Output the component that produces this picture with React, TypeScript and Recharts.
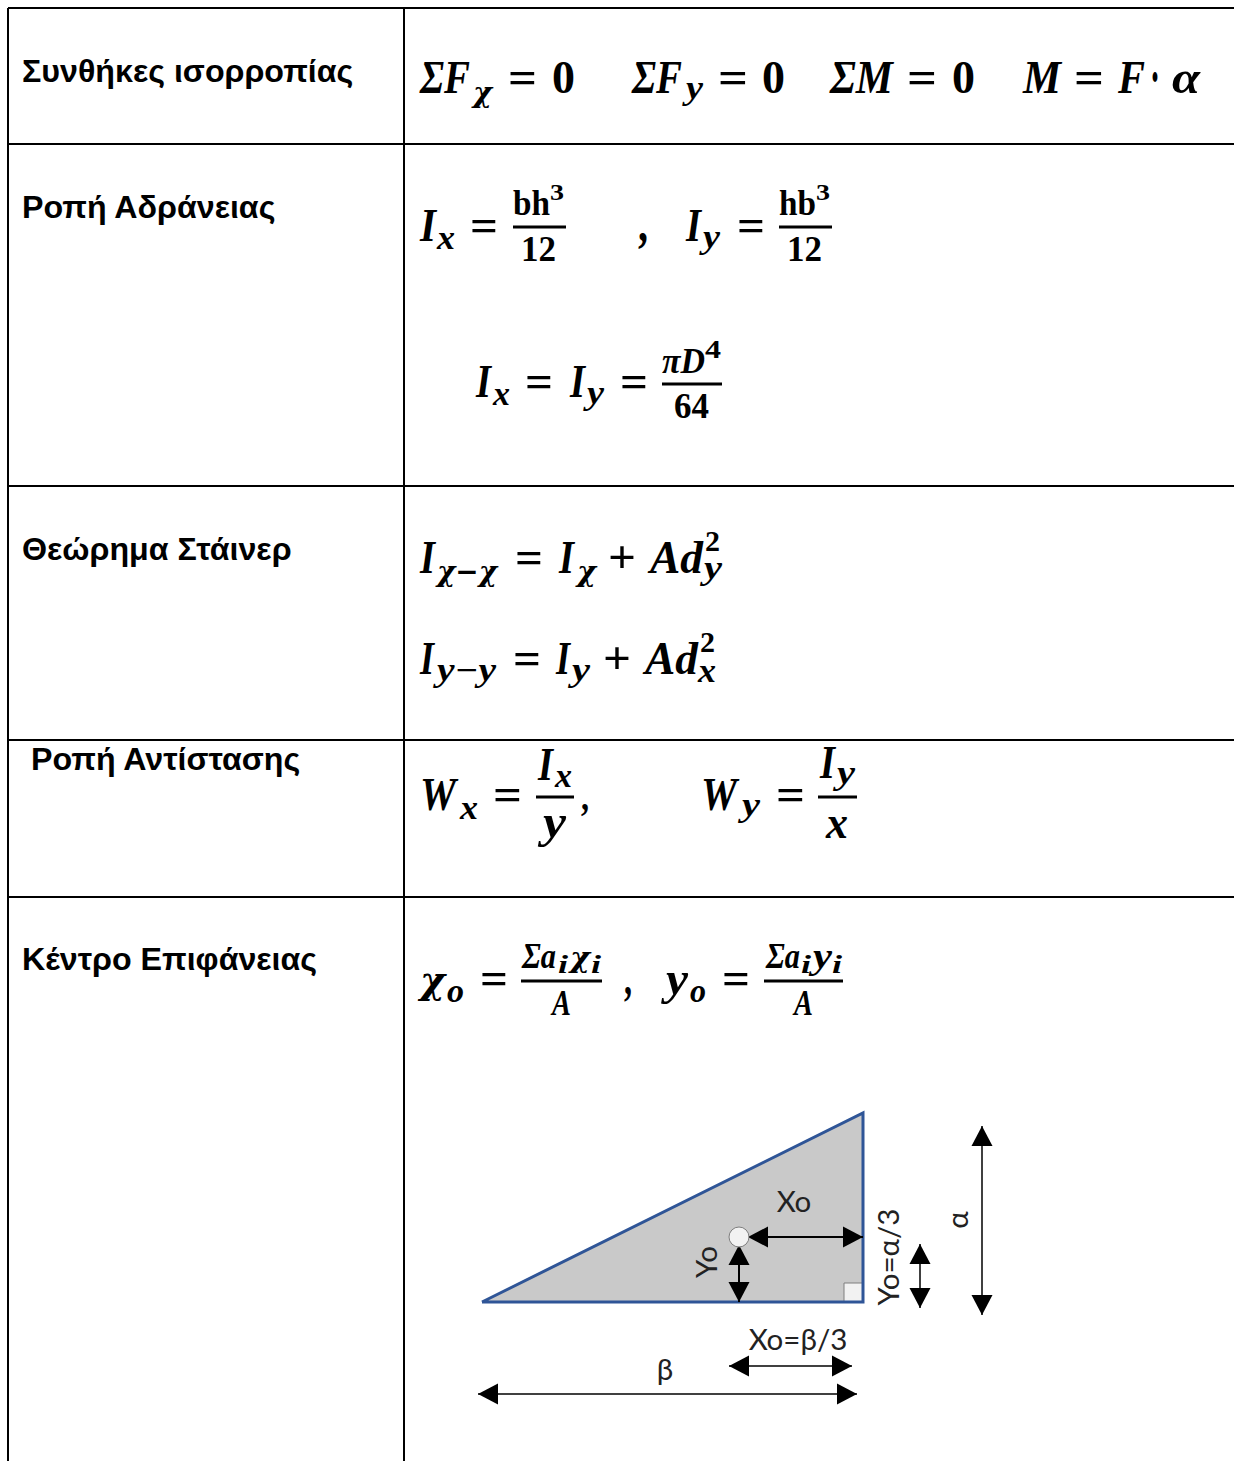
import { Area, ComposedChart, Line, ReferenceArea, Scatter, XAxis, YAxis } from "recharts";

// table text
const rowLabels = [
  { text: "Συνθήκες ισορροπίας", x: 22, y: 82 },
  { text: "Ροπή Αδράνειας", x: 22, y: 218 },
  { text: "Θεώρημα Στάινερ", x: 22, y: 560 },
  { text: "Ροπή Αντίστασης", x: 31, y: 770 },
  { text: "Κέντρο Επιφάνειας", x: 22, y: 970 },
];
const rowRules = [8, 144, 486, 740, 897];
const columnRules = [8, 404];

type Run = [string, number, number, number, number?, string?];
// text, x, baseline, width, size, kind ("b" upright bold, "c" chi glyph, default bold italic)
const BIG = 47;
const SUB = 33;
const CHI = 28;
const formulaRuns: Run[] = [
  ["ΣF", 420, 93, 50, BIG],
  ["χ", 473, 102, 19, CHI, "c"],
  ["=", 508, 93, 29, BIG, "b"],
  ["0", 552, 93, 23, BIG, "b"],
  ["ΣF", 632, 93, 50, BIG],
  ["y", 686, 99, 17, SUB],
  ["=", 718, 93, 30, BIG, "b"],
  ["0", 762, 93, 23, BIG, "b"],
  ["ΣM", 830, 93, 63, BIG],
  ["=", 907, 93, 30, BIG, "b"],
  ["0", 952, 93, 23, BIG, "b"],
  ["M", 1023, 93, 38, BIG],
  ["=", 1074, 93, 30, BIG, "b"],
  ["F", 1118, 93, 27, BIG],
  ["·", 1150, 97, 10, 62, "b"],
  ["α", 1172, 93, 28, BIG],

  ["I", 420, 241, 16, BIG],
  ["x", 437, 249, 18, SUB],
  ["=", 470, 241, 28, BIG, "b"],
  ["bh", 513, 215, 37, 35, "b"],
  ["3", 550, 200, 14, 24, "b"],
  ["12", 521, 261, 35, 35, "b"],
  [",", 638, 241, 10, 52, "b"],
  ["I", 686, 241, 15, BIG],
  ["y", 703, 248, 17, SUB],
  ["=", 737, 241, 28, BIG, "b"],
  ["hb", 779, 215, 37, 35, "b"],
  ["3", 816, 200, 14, 24, "b"],
  ["12", 787, 261, 35, 35, "b"],

  ["I", 476, 397, 15, BIG],
  ["x", 493, 405, 17, SUB],
  ["=", 525, 397, 28, BIG, "b"],
  ["I", 570, 397, 15, BIG],
  ["y", 587, 404, 17, SUB],
  ["=", 620, 397, 28, BIG, "b"],
  ["πD", 662, 373, 43, 35],
  ["4", 705, 358, 16, 25, "b"],
  ["64", 674, 418, 35, 35, "b"],

  ["I", 420, 573, 15, BIG],
  ["χ−χ", 437, 581, 60, CHI, "c"],
  ["=", 515, 573, 28, BIG, "b"],
  ["I", 559, 573, 15, BIG],
  ["χ", 577, 581, 19, CHI, "c"],
  ["+", 608, 573, 28, BIG, "b"],
  ["Ad", 650, 573, 53, BIG],
  ["2", 705, 551, 15, 29, "b"],
  ["y", 704, 579, 18, SUB],

  ["I", 420, 674, 14, BIG],
  ["y−y", 437, 681, 59, SUB],
  ["=", 513, 674, 28, BIG, "b"],
  ["I", 556, 674, 14, BIG],
  ["y", 572, 681, 18, SUB],
  ["+", 603, 674, 28, BIG, "b"],
  ["Ad", 645, 674, 53, BIG],
  ["2", 700, 652, 15, 29, "b"],
  ["x", 698, 682, 18, SUB],

  ["W", 420, 810, 36, BIG],
  ["x", 460, 819, 18, SUB],
  ["=", 493, 810, 29, BIG, "b"],
  ["I", 538, 780, 15, BIG],
  ["x", 555, 787, 17, SUB],
  ["y", 543, 837, 23, BIG],
  [",", 581, 810, 8, 40, "b"],
  ["W", 701, 810, 36, BIG],
  ["y", 742, 816, 18, SUB],
  ["=", 776, 810, 29, BIG, "b"],
  ["I", 820, 778, 15, BIG],
  ["y", 837, 784, 18, SUB],
  ["x", 826, 838, 22, BIG],

  ["χ", 420, 993, 25, 38, "c"],
  ["o", 447, 1002, 17, SUB],
  ["=", 480, 994, 28, BIG, "b"],
  ["Σa", 522, 968, 34, 35],
  ["i", 558, 973, 10, 25],
  ["χ", 570, 967, 20, 28, "c"],
  ["i", 591, 973, 10, 25],
  ["A", 552, 1015, 19, 35],
  [",", 624, 994, 8, 48, "b"],
  ["y", 666, 994, 22, BIG],
  ["o", 690, 1002, 16, SUB],
  ["=", 722, 994, 28, BIG, "b"],
  ["Σa", 766, 968, 34, 35],
  ["i", 801, 973, 10, 25],
  ["y", 813, 968, 19, 35],
  ["i", 832, 973, 10, 25],
  ["A", 794, 1015, 19, 35],
];
// x1, x2, y
const fractionBars = [
  [513, 566, 227],
  [779, 832, 227],
  [662, 722, 384],
  [536, 574, 797],
  [818, 857, 797],
  [521, 602, 981],
  [764, 843, 981],
];

// triangle diagram, in its own units with the acute corner at 0,0
const triangleTop = [{ x: 0, y: 0 }, { x: 381, y: 189 }];
const triangleOutline = [{ x: 0, y: 0 }, { x: 381, y: 189 }, { x: 381, y: 0 }, { x: 0, y: 0 }];
const centroid = [{ x: 257, y: 65 }];
const dimensionArrows = [
  { name: "beta", from: { x: -4, y: -92 }, to: { x: 375, y: -92 }, width: 1.5 },
  { name: "xoThird", from: { x: 247, y: -64 }, to: { x: 370, y: -64 }, width: 1.5 },
  { name: "alpha", from: { x: 500, y: 176 }, to: { x: 500, y: -13 }, width: 1.5 },
  { name: "yoThird", from: { x: 438, y: 58 }, to: { x: 438, y: -6 }, width: 1.5 },
  { name: "xo", from: { x: 266, y: 65 }, to: { x: 381, y: 65 }, width: 2 },
  { name: "yo", from: { x: 257, y: 57 }, to: { x: 257, y: 0 }, width: 2 },
];
const diagramLabels = [
  { x: 312, y: 102, text: "Xo", rotate: 0 },
  { x: 223, y: 40, text: "Yo", rotate: -90 },
  { x: 405, y: 45, text: "Yo=α/3", rotate: -90 },
  { x: 474, y: 82, text: "α", rotate: -90 },
  { x: 316, y: -36, text: "Xo=β/3", rotate: 0 },
  { x: 183, y: -66, text: "β", rotate: 0 },
];

function ArrowHead({ cx, cy, angle }: { cx: number; cy: number; angle: number }) {
  return <polygon points="0,0 -20,-10.5 -20,10.5" fill="#000" transform={`translate(${cx} ${cy}) rotate(${angle})`} />;
}

function DiagramLabel(props: any) {
  const { cx, cy, payload } = props;
  return (
    <text
      x={cx}
      y={cy}
      textAnchor="middle"
      dominantBaseline="central"
      fontFamily="Lato, 'Noto Sans', sans-serif"
      fontSize={29.5}
      fill="#222"
      transform={`rotate(${payload.rotate} ${cx} ${cy})`}
    >
      {payload.text}
    </text>
  );
}

function Diagram() {
  return (
    <div style={{ position: "absolute", left: 460, top: 1090 }}>
      <ComposedChart width={560} height={330} margin={{ top: 0, right: 0, bottom: 0, left: 0 }}>
        <XAxis type="number" dataKey="x" domain={[-22, 538]} hide />
        <YAxis type="number" dataKey="y" domain={[-118, 212]} hide />
        <Area data={triangleTop} dataKey="y" type="linear" fill="#c9c9c9" fillOpacity={1} stroke="none" baseValue={0} isAnimationActive={false} />
        <ReferenceArea x1={362} x2={381} y1={0} y2={19} fill="#f2f2f2" fillOpacity={1} stroke="#7f7f7f" />
        <Line data={triangleOutline} dataKey="y" type="linear" stroke="#2f5597" strokeWidth={3} dot={false} isAnimationActive={false} />
        {dimensionArrows.map((a) => {
          const angle = (Math.atan2(a.from.y - a.to.y, a.to.x - a.from.x) * 180) / Math.PI;
          return (
            <Line
              key={a.name}
              data={[a.from, a.to]}
              dataKey="y"
              type="linear"
              stroke="#000"
              strokeWidth={a.width}
              isAnimationActive={false}
              dot={(p: any) => <ArrowHead key={p.index} cx={p.cx} cy={p.cy} angle={p.index === 0 ? angle + 180 : angle} />}
            />
          );
        })}
        <Scatter data={centroid} dataKey="y" shape={(p: any) => <circle cx={p.cx} cy={p.cy} r={10} fill="#f2f2f2" stroke="#7f7f7f" />} isAnimationActive={false} />
        <Scatter data={diagramLabels} dataKey="y" shape={DiagramLabel} isAnimationActive={false} />
      </ComposedChart>
    </div>
  );
}

function runStyle(kind?: string) {
  if (kind === "b") return { fontFamily: "'Liberation Serif', serif", fontWeight: 700, fontStyle: "normal" };
  if (kind === "c") return { fontFamily: "'DejaVu Serif', serif", fontWeight: 700, fontStyle: "italic" };
  return { fontFamily: "'Liberation Serif', serif", fontWeight: 700, fontStyle: "italic" };
}

export default function App() {
  return (
    <div style={{ position: "absolute", left: 0, top: 0, width: 1234, height: 1461, overflow: "hidden", background: "#fff" }}>
      <svg width={1234} height={1461} style={{ position: "absolute", left: 0, top: 0 }}>
        {rowRules.map((y) => (
          <line key={y} x1={8} x2={1234} y1={y} y2={y} stroke="#000" strokeWidth={2} />
        ))}
        {columnRules.map((x) => (
          <line key={x} x1={x} x2={x} y1={8} y2={1461} stroke="#000" strokeWidth={2} />
        ))}
        {rowLabels.map((r) => (
          <text key={r.text} x={r.x} y={r.y} fontFamily="'Liberation Sans', Arial, sans-serif" fontWeight={700} fontSize={32.2} fill="#000">
            {r.text}
          </text>
        ))}
        {formulaRuns.map(([t, x, y, w, size, kind], i) => (
          <text key={i} x={x} y={y} textLength={w} lengthAdjust="spacingAndGlyphs" fontSize={size} fill="#000" {...runStyle(kind)}>
            {t}
          </text>
        ))}
        {fractionBars.map(([x1, x2, y]) => (
          <line key={x1} x1={x1} x2={x2} y1={y} y2={y} stroke="#000" strokeWidth={3} />
        ))}
      </svg>
      <Diagram />
    </div>
  );
}
